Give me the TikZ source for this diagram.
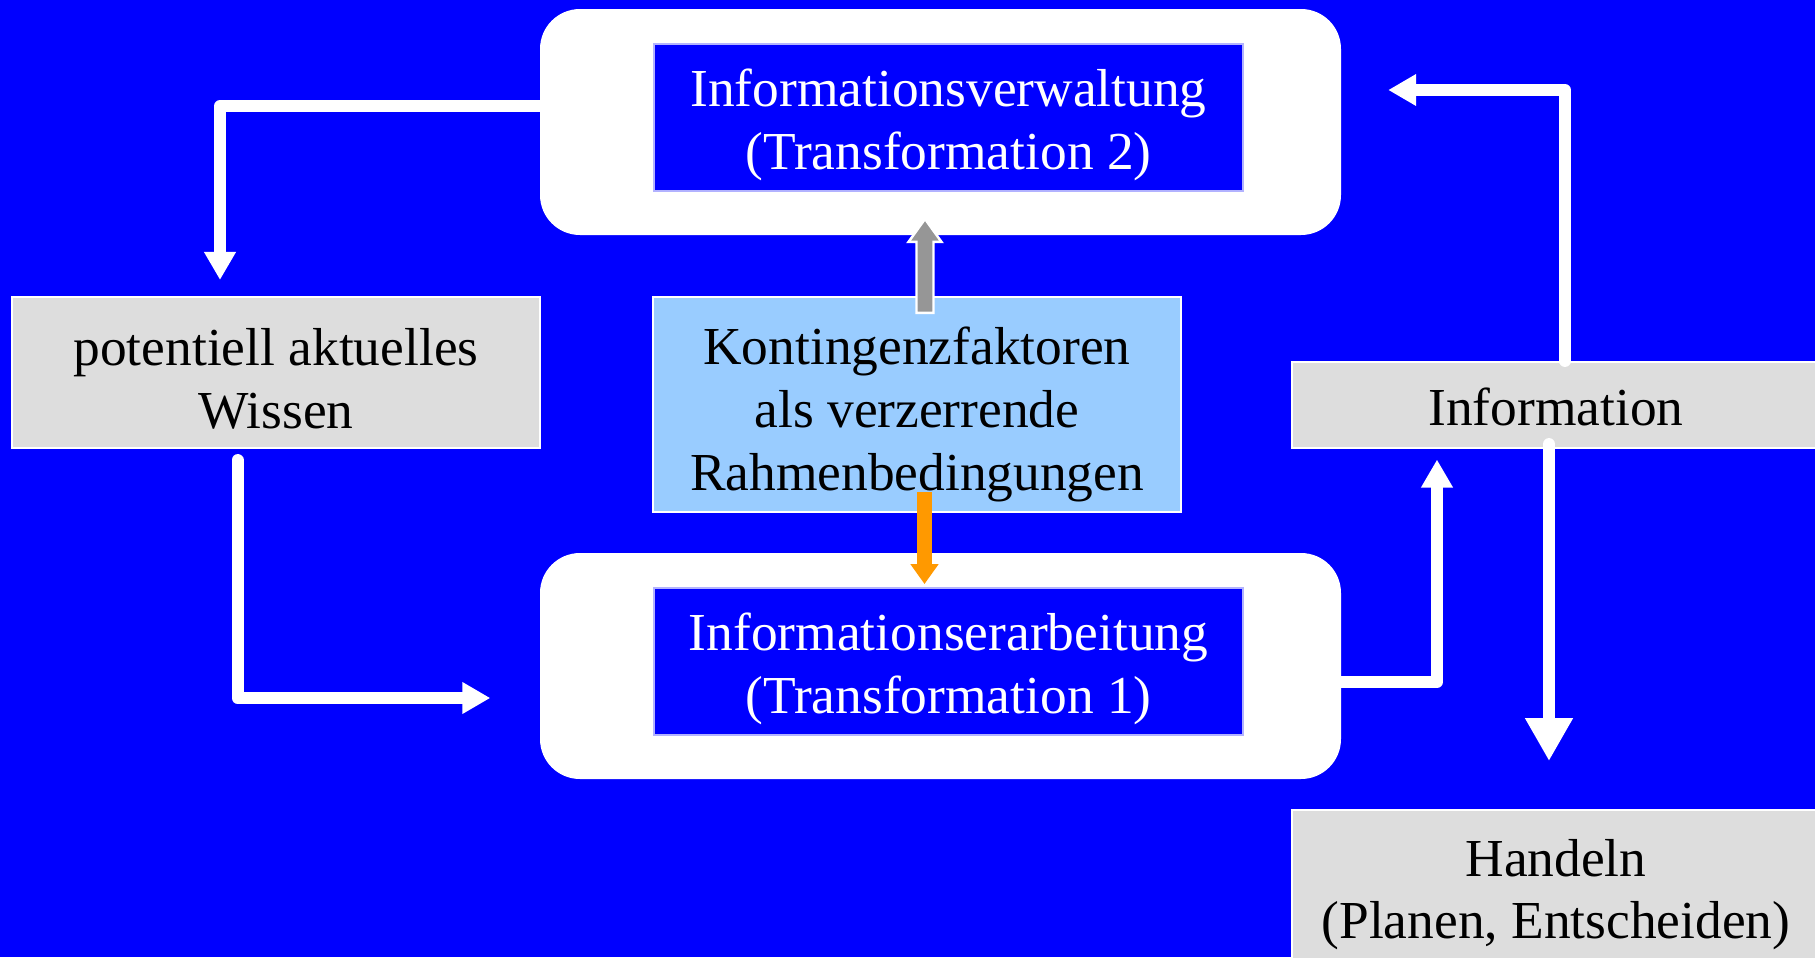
\documentclass[tikz,border=0pt]{standalone}
\usepackage{fontspec}
\setmainfont{Liberation Serif}
\usetikzlibrary{arrows.meta}

\definecolor{pptblue}{HTML}{0000FF}
\definecolor{boxgray}{HTML}{DDDDDD}
\definecolor{skyblue}{HTML}{99CCFF}
\definecolor{arrowgray}{HTML}{969696}
\definecolor{arroworange}{HTML}{FF9900}

\tikzset{
  txt/.style={font=\fontsize{15.2}{17.9}\selectfont, align=center, inner sep=0pt},
  frame/.style={fill=white, rounded corners=0.4cm, minimum width=8.01cm, minimum height=2.26cm, inner sep=0pt},
  core/.style={txt, text height=1.03cm, text depth=0pt, fill=pptblue, draw=white!70!pptblue, line width=0.5pt, text=white, minimum width=5.89cm, minimum height=1.47cm},
  graybox/.style={txt, fill=boxgray, draw=white, line width=0.6pt, minimum width=5.28cm},
  flow/.style={white, line width=0.12cm, line cap=round, line join=round, -{Triangle[width=0.30cm,length=0.28cm]}},
}

\begin{document}
\begin{tikzpicture}
	\useasboundingbox (0,0) rectangle (18.15,9.57);
	\clip (0,0) rectangle (18.15,9.57);
	\fill[pptblue] (0,0) rectangle (18.15,9.57);
	% Transformation 2 (top) and Transformation 1 (bottom)
	\node[frame] (verw) at (9.405,8.35) {};
	\node[core] (verwtxt) at (9.485,8.395) {Informationsverwaltung\\(Transformation 2)};
	\node[frame] (erarb) at (9.405,2.91) {};
	\node[core] (erarbtxt) at (9.485,2.955) {Informationserarbeitung\\(Transformation 1)};
	% Boxes round the cycle
	\node[graybox, text height=1.11cm, text depth=0pt, minimum height=1.51cm] (wissen) at (2.76,5.845) {potentiell aktuelles\\Wissen};
	\node[txt, text height=1.71cm, text depth=0pt, fill=skyblue, draw=white, line width=0.6pt, minimum width=5.28cm, minimum height=2.15cm] (kont) at (9.17,5.525) {Kontingenzfaktoren\\als verzerrende\\Rahmenbedingungen};
	\node[graybox, text height=0.40cm, text depth=0pt, minimum height=0.86cm] (info) at (15.56,5.52) {Information};
	\node[graybox, minimum height=1.69cm] (handeln) at (15.56,0.624) {Handeln\\(Planen, Entscheiden)};
	% Cycle arrows
	\draw[flow] ([yshift=0.16cm]verw.west) -| ([xshift=-0.56cm,yshift=0.16cm]wissen.north);
	\draw[flow] ([xshift=-0.385cm,yshift=-0.11cm]wissen.south) |- ([xshift=-0.49cm,yshift=-0.32cm]erarb.west);
	\draw[flow] ([yshift=-0.16cm]erarb.east) -| ([xshift=-1.19cm,yshift=-0.105cm]info.south);
	\draw[flow] ([xshift=0.09cm]info.north) |- ([xshift=0.465cm,yshift=0.32cm]verw.east);
	\draw[flow, -{Triangle[width=0.45cm,length=0.43cm]}] ([xshift=-0.07cm,yshift=0.05cm]info.south) -- ([xshift=-0.07cm,yshift=0.48cm]handeln.north);
	% Kontingenzfaktoren act on both transformations
	\filldraw[fill=arrowgray, draw=white, line width=0.7pt] ([xshift=0.08cm,yshift=-0.17cm]kont.north) -- ++(0.085,0) -- ++(0,0.71) -- ++(0.08,0) -- ++(-0.165,0.23) -- ++(-0.165,-0.23) -- ++(0.08,0) -- ++(0,-0.71) -- cycle;
	\draw[arroworange, line width=0.15cm, -{Triangle[width=0.27cm,length=0.2cm]}] ([xshift=0.075cm,yshift=0.21cm]kont.south) -- ([xshift=0.075cm,yshift=-0.71cm]kont.south);
\end{tikzpicture}
\end{document}
